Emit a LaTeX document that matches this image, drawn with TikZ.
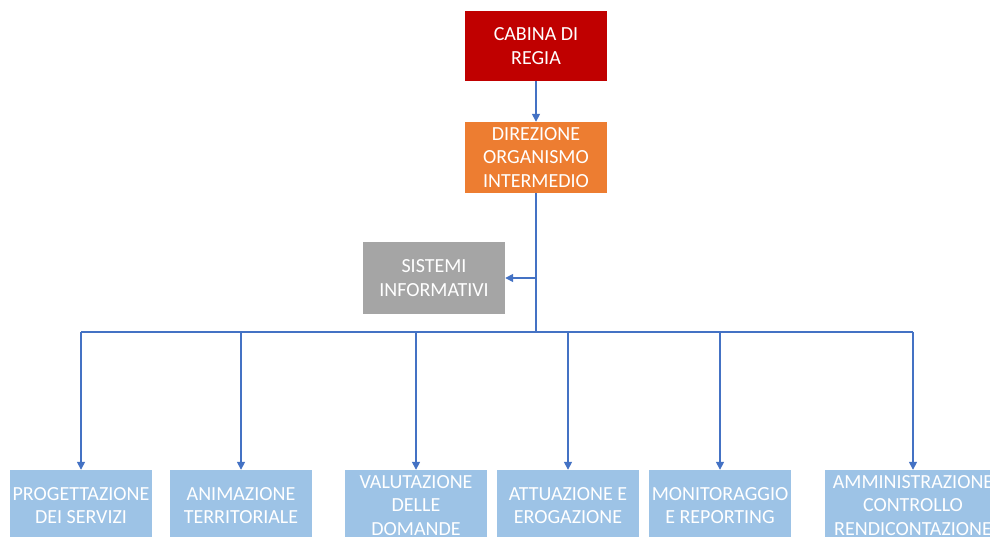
\documentclass[tikz,border=0pt]{standalone}
\usepackage{fontspec}
\setmainfont{Carlito}
\usetikzlibrary{arrows.meta}
\definecolor{boxred}{HTML}{C00000}
\definecolor{boxorange}{HTML}{ED7D31}
\definecolor{boxgray}{HTML}{A5A5A5}
\definecolor{boxblue}{HTML}{9DC3E6}
\definecolor{linkblue}{HTML}{4472C4}
\tikzset{
  orgbox/.style={rectangle, inner sep=0pt, align=center, text=white,
    minimum width=142pt, minimum height=71pt,
    font=\fontsize{20}{23.5}\selectfont},
  link/.style={draw=linkblue, line width=1.5pt},
  arr/.style={link, -{Triangle[width=8pt,length=8pt]}}
}
\begin{document}
\begin{tikzpicture}[x=1pt,y=-1pt]
\useasboundingbox (0,0) rectangle (990,537);
\clip (0,0) rectangle (990,537);
\fill[white] (0,0) rectangle (990,537);
\node[orgbox, fill=boxred, minimum height=70pt] (cab) at (536,46) {CABINA DI\\REGIA};
\node[orgbox, fill=boxorange] (dir) at (536,157.5) {DIREZIONE\\ORGANISMO\\INTERMEDIO};
\node[orgbox, fill=boxgray, minimum height=72pt] (sis) at (434,278) {SISTEMI\\INFORMATIVI};
\node[orgbox, fill=boxblue] (p1) at (81,505.5) {PROGETTAZIONE\\DEI SERVIZI};
\node[orgbox, fill=boxblue] (p2) at (241,505.5) {ANIMAZIONE\\TERRITORIALE};
\node[orgbox, fill=boxblue] (p3) at (416,505.5) {VALUTAZIONE\\DELLE\\DOMANDE};
\node[orgbox, fill=boxblue] (p4) at (568,505.5) {ATTUAZIONE E\\EROGAZIONE};
\node[orgbox, fill=boxblue] (p5) at (720,505.5) {MONITORAGGIO\\E REPORTING};
\node[orgbox, fill=boxblue, minimum width=176pt] (p6) at (913,505.5) {AMMINISTRAZIONE\\CONTROLLO\\RENDICONTAZIONE};
\coordinate (bus) at (536,332);
\draw[arr] (cab.south) -- (dir.south |- cab.south) -- (dir.north);
\draw[link] (dir.south) -- (bus);
\draw[arr] (dir.south |- sis.east) -- (sis.east);
\draw[link] (p1.north |- bus) -- (p6.north |- bus);
\foreach \p in {p1,p2,p3,p4,p5,p6}{
  \draw[arr] (\p.north |- bus) -- (\p.north);
}
\end{tikzpicture}
\end{document}
